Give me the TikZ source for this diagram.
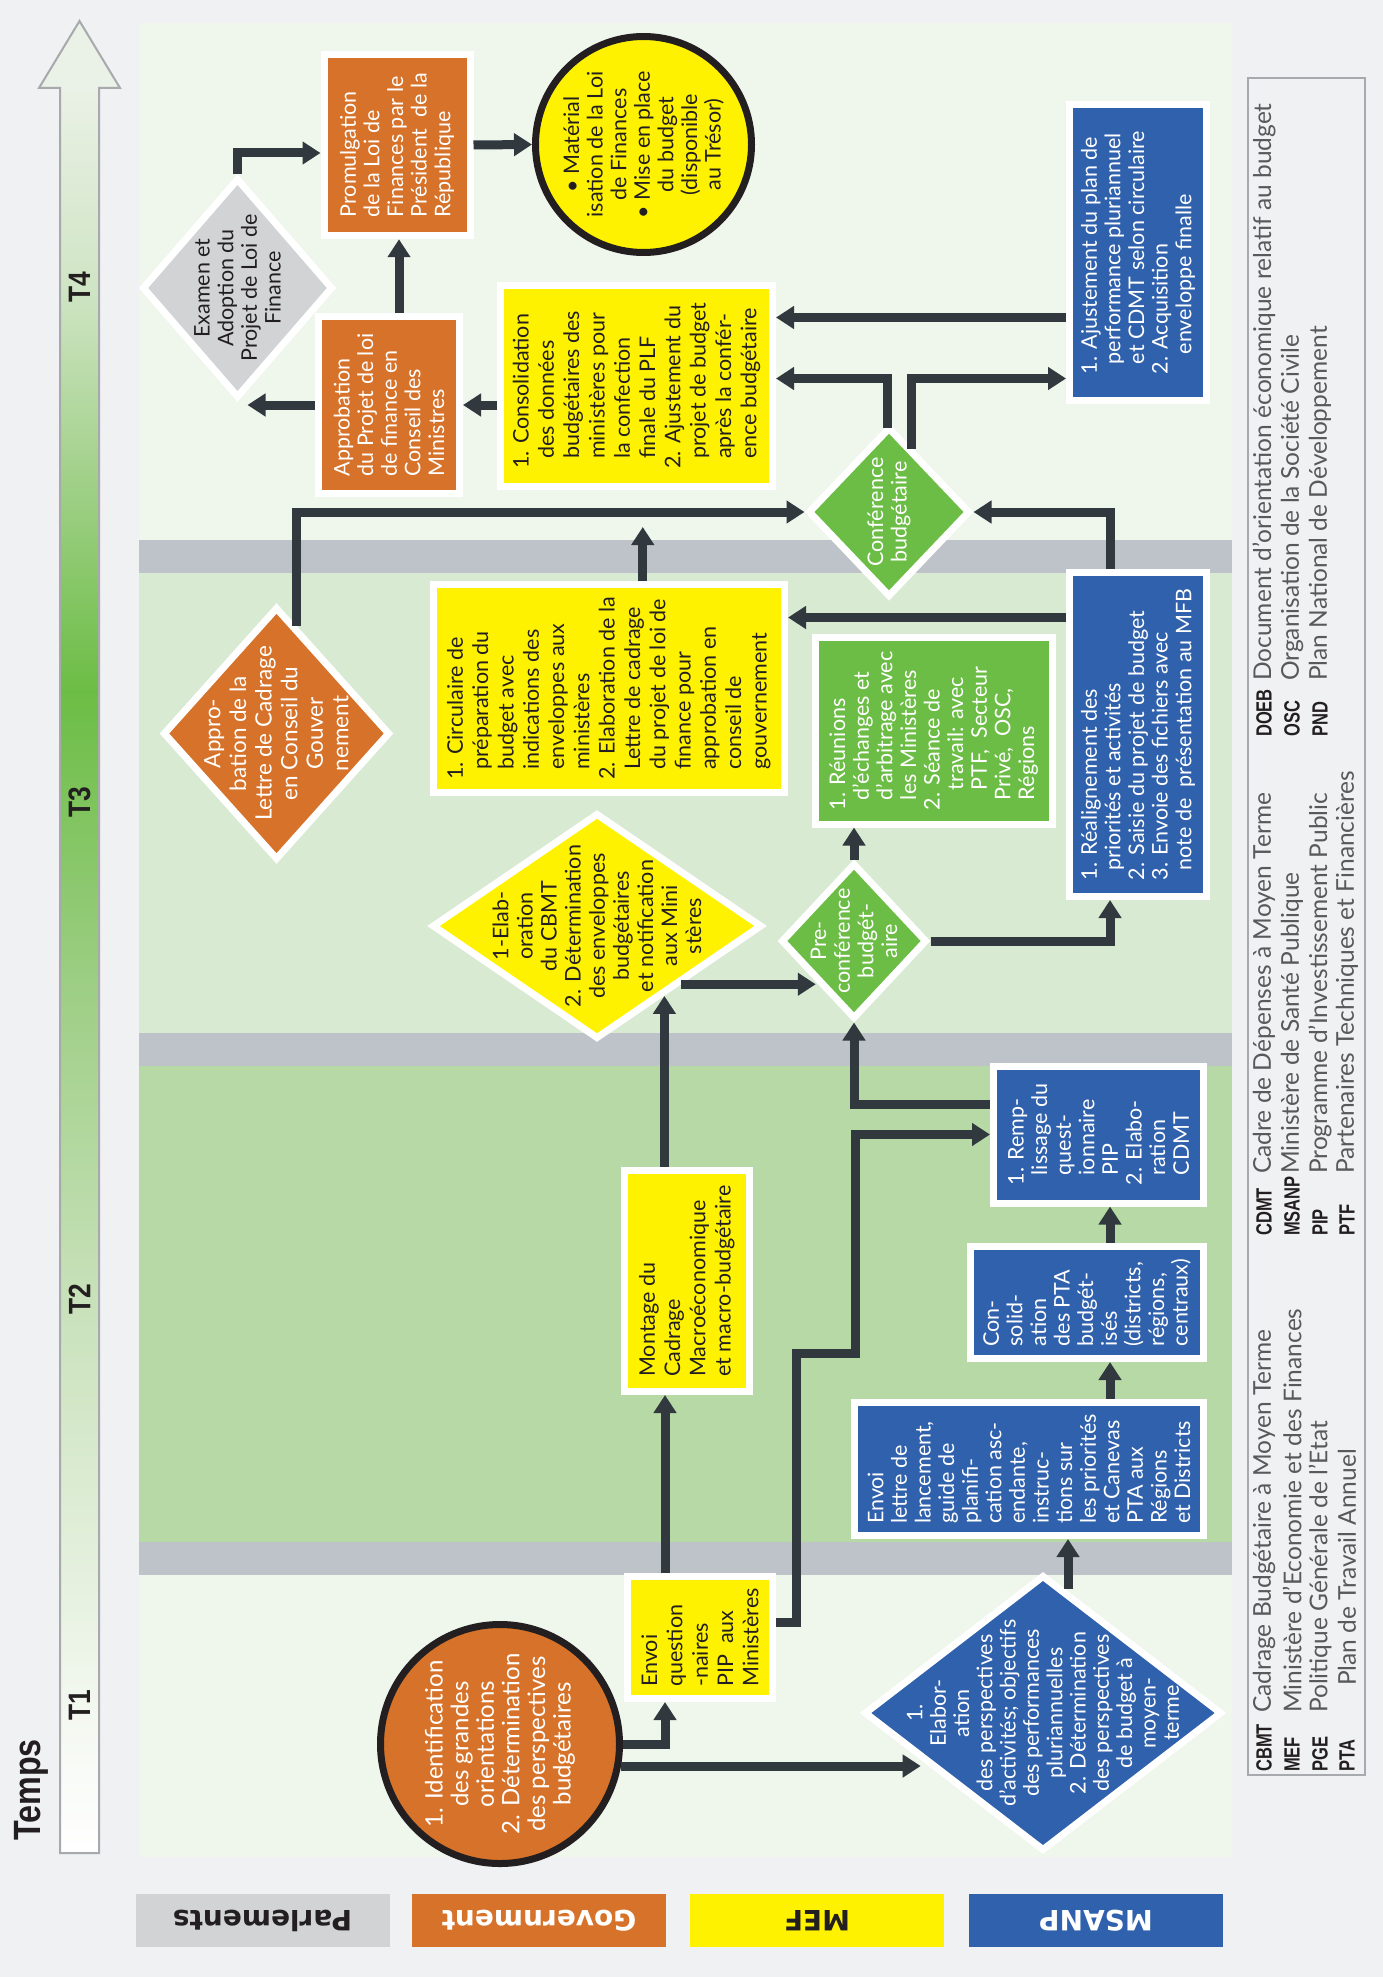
\documentclass[tikz,border=0pt]{standalone}
\usepackage{fontspec}
\setmainfont{Lato}
\newfontfamily\rolefont{DejaVu Sans}
\newfontfamily\timefont[FakeStretch=0.85]{Liberation Sans}
\newfontfamily\abbrfont[FakeStretch=0.75]{Liberation Sans}
\usepackage{tikz}
\usetikzlibrary{arrows.meta,positioning,calc,shapes.geometric}
\definecolor{pagebg}{HTML}{F0F1F3}
\definecolor{bandpale}{HTML}{EFF6EC}
\definecolor{bandlight}{HTML}{D9EAD3}
\definecolor{bandmid}{HTML}{B7D9A5}
\definecolor{bandsep}{HTML}{BEC2C9}
\definecolor{gorange}{HTML}{D67229}
\definecolor{myellow}{HTML}{FFF200}
\definecolor{mblue}{HTML}{3061AD}
\definecolor{mgreen}{HTML}{6CBD45}
\definecolor{pgrey}{HTML}{D1D3D4}
\definecolor{ink}{HTML}{231F20}
\definecolor{arrowc}{HTML}{31393F}
\definecolor{legline}{HTML}{A7A9AC}
\definecolor{legtext}{HTML}{58595B}
\definecolor{tg0}{HTML}{FFFFFF}
\definecolor{tg1}{HTML}{F3F8F0}
\definecolor{tg2}{HTML}{C8E1BA}
\definecolor{tg3}{HTML}{9FCF87}
\definecolor{tg4}{HTML}{6CBD45}
\definecolor{tg5}{HTML}{A8D392}
\definecolor{tg6}{HTML}{D0E5C5}
\definecolor{tg7}{HTML}{EAF1E6}
\pgfdeclareverticalshading{tempsgrad}{100bp}{color(0bp)=(tg0); color(25bp)=(tg0); color(29bp)=(tg1); color(40.7bp)=(tg2); color(49.2bp)=(tg3); color(57.9bp)=(tg4); color(64.7bp)=(tg5); color(69.4bp)=(tg6); color(75bp)=(tg7); color(100bp)=(tg7)}
\newcommand{\cont}{\hspace*{10pt}}
\tikzset{
  box/.style={draw=white,line width=7pt,inner sep=2pt,align=left,font=\fontsize{21.5}{23.6}\selectfont},
  govbox/.style={box,fill=gorange,text=white},
  mefbox/.style={box,fill=myellow,text=ink,font=\fontsize{21.5}{25.3}\selectfont},
  sanbox/.style={box,fill=mblue,text=white},
  confbox/.style={box,fill=mgreen,text=white},
  dia/.style={diamond,draw=white,line width=7pt,inner sep=0pt},
  ring/.style={circle,draw=ink,line width=7pt,inner sep=0pt},
  lbl/.style={inner sep=0pt,align=center,font=\fontsize{21.5}{23.6}\selectfont},
  arr/.style={-{Triangle[length=18pt,width=22pt]},line width=9pt,draw=arrowc},
  rolebox/.style={minimum width=254,minimum height=53,inner sep=0pt,font=\rolefont\bfseries\fontsize{28}{30}\selectfont},
  abbr/.style={anchor=west,inner sep=0pt,text=ink,font=\abbrfont\bfseries\fontsize{22}{26}\selectfont},
  expl/.style={anchor=west,inner sep=0pt,text=legtext,font=\fontsize{24.5}{27}\selectfont},
  tlabel/.style={rotate=90,inner sep=0pt,text=ink,font=\timefont\bfseries\fontsize{31}{34}\selectfont},
}
\begin{document}
\begin{tikzpicture}[x=1pt,y=-1pt]
  \useasboundingbox (0,0) rectangle (1383,1977);
  \fill[pagebg] (0,0) rectangle (1383,1977);

  \begin{scope}[shift={(0,1977)},rotate=90,transform shape]
    \fill[bandpale]  (120,139) rectangle (402,1232);
    \fill[bandsep]   (402,139) rectangle (435,1232);
    \fill[bandmid]   (435,139) rectangle (911,1232);
    \fill[bandsep]   (911,139) rectangle (944,1232);
    \fill[bandlight] (944,139) rectangle (1404,1232);
    \fill[bandsep]   (1404,139) rectangle (1437,1232);
    \fill[bandpale]  (1437,139) rectangle (1954,1232);

    % T4
    \node[govbox,minimum width=181.5,minimum height=146] (promul) at (1832,397) {Promulgation\\de la Loi de\\Finances par le\\Président\ \ de la\\République};
    \node[govbox,minimum width=177,minimum height=141] (appro) at (1572,389) {Approbation\\du Projet de loi\\de finance en\\Conseil des\\Ministres};
    \node[dia,fill=pgrey,minimum width=220,minimum height=191] (exam) at (1689,237.5) {};
    \node[lbl,text=ink] (exam-t) at (exam) {Examen et\\Adoption du\\Projet de Loi de\\Finance};
    \node[ring,fill=myellow,minimum size=216] (mater) at (1832.5,643.5) {};
    \node[lbl,text=ink] (mater-t) at (mater) {\textbullet\ Matérial\\isation de la Loi\\de Finances\\\textbullet\ Mise en place\\du budget\\(disponible\\au Trésor)};
    \node[mefbox,minimum width=201.5,minimum height=272] (conso) at (1591.25,636.5) {1. Consolidation\\\cont des données\\\cont budgétaires des\\\cont ministères pour\\\cont la confection\\\cont finale du PLF\\2. Ajustement du\\\cont projet de budget\\\cont après la confér-\\\cont ence budgétaire};
    \node[sanbox,minimum width=296,minimum height=137] (ajust) at (1724.5,1138) {1. Ajustement du plan de\\\cont performance pluriannuel\\\cont et CDMT selon circulaire\\2. Acquisition\\\cont\cont enveloppe finalle};
    \node[dia,fill=mgreen,minimum width=170,minimum height=162] (conf) at (1465,889) {};
    \node[lbl,text=white] (conf-t) at (conf) {Conférence\\budgétaire};

    % T3
    \node[dia,fill=gorange,minimum width=253,minimum height=227] (cadrage) at (1243.5,276.5) {};
    \node[lbl,text=white,font=\fontsize{22.5}{25.6}\selectfont] (cadrage-t) at (cadrage) {Appro-\\bation de la\\Lettre de Cadrage\\en Conseil du\\Gouver\\nement};
    \node[mefbox,minimum width=208.5,minimum height=351.5] (circ) at (1288.75,608.75) {1. Circulaire de\\\cont préparation du\\\cont budget avec\\\cont indications des\\\cont enveloppes aux\\\cont ministères\\2. Elaboration de la\\\cont Lettre de cadrage\\\cont du projet de loi de\\\cont finance pour\\\cont approbation en\\\cont conseil de\\\cont gouvernement};
    \node[sanbox,minimum width=324,minimum height=137] (realign) at (1242.5,1138) {1. Réalignement des\\\cont priorités et activités\\2. Saisie du projet de budget\\3. Envoie des fichiers avec\\\cont note de\ \ présentation au MFB};
    \node[confbox,minimum width=186.5,minimum height=236.5] (reunion) at (1246.25,933.75) {1. Réunions\\\cont d'échanges et\\\cont d'arbitrage avec\\\cont les Ministères\\2. Séance de\\\cont\cont travail: avec\\\cont\cont PTF,\ \ Secteur\\\cont Privé,\ \ OSC,\\\cont Régions};
    \node[dia,fill=mgreen,minimum width=156,minimum height=146] (preconf) at (1036,854) {};
    \node[lbl,text=white] (preconf-t) at (preconf) {Pre-\\conférence\\budgét-\\aire};
    \node[dia,fill=myellow,minimum width=226,minimum height=330] (elab) at (1051,597) {};
    \node[lbl,text=ink,font=\fontsize{21.5}{24.1}\selectfont] (elab-t) at (elab) {1-Elab-\\oration\\du CBMT\\2. Détermination\\des enveloppes\\budgétaires\\et notification\\aux Mini\\stères};

    % T2
    \node[mefbox,minimum width=221,minimum height=125.5] (montage) at (696,686.75) {Montage du\\Cadrage\\Macroéconomique\\et macro-budgétaire};
    \node[sanbox,minimum width=137,minimum height=210] (remp) at (842.5,1098.5) {1. Remp-\\\cont lissage du\\\cont quest-\\\cont ionnaire\\\cont PIP\\2. Elabo-\\\cont ration\\\cont CDMT};
    \node[sanbox,minimum width=112,minimum height=233] (pta) at (674.5,1087) {Con-\\solid-\\ation\\des PTA\\budgét-\\isés\\(districts,\\régions,\\centraux)};
    \node[sanbox,minimum width=133,minimum height=349] (lancement) at (508,1029) {Envoi\\lettre de\\lancement,\\guide de\\planifi-\\cation asc-\\endante,\\instruc-\\tions sur\\les priorités\\et Canevas\\PTA aux\\Régions\\et Districts};

    % T1
    \node[dia,fill=mblue,minimum width=276,minimum height=358] (msanp) at (264,1043) {};
    \node[lbl,text=white,font=\fontsize{21.5}{23.3}\selectfont] (msanp-t) at (msanp) {1.\\Elabor-\\ation\\des perspectives\\d'activités; objectifs\\des performances\\pluriannuelles\\2. Détermination\\des perspectives\\de budget à\\moyen-\\terme};
    \node[mefbox,minimum width=122,minimum height=145] (quest) at (339.5,700) {Envoi\\question\\-naires\\PIP\ \ aux\\Ministères};
    \node[ring,fill=gorange,minimum size=239] (ident) at (233,500) {};
    \node[lbl,text=white,font=\fontsize{24}{25.6}\selectfont] (ident-t) at (ident) {1. Identification\\des grandes\\orientations\\2. Détermination\\des perspectives\\budgétaires};

    % connectors
    \draw[arr] (exam.east) -| ($(promul.north)+(-8,0)$);
    \draw[arr] ($(appro.north |- exam.west)+(0,10)$) coordinate (a2) (appro.north) -- (a2);
    \draw[arr] ($(appro.east)+(0,10)$) coordinate (a3) -- (a3 -| promul.west);
    \draw[arr] (promul.south) -- (mater.north);
    \draw[arr] (conso.north -| appro.south) -- (appro.south);
    \draw[arr] ($(ajust.north)+(-65,0)$) coordinate (a6) -- (a6 |- conso.south);
    \draw[arr] ($(conf.east)+(-4,-2)$) -- ++(49,0) coordinate (a7) -- (a7 |- conso.south);
    \draw[arr] ($(conf.east)+(-25,22)$) -- ++(70,0) coordinate (a8) -- (a8 |- ajust.north);
    \draw[arr] ($(cadrage.east)!0.17!(cadrage.south)$) -| (conf.north);
    \draw[arr,shorten >=37pt] ($(circ.east)+(0,34)$) coordinate (a9) -- (a9 -| conso.west);
    \draw[arr] ($(realign.east)+(0,-28)$) -| (conf.south);
    \draw[arr] ($(realign.north)+(117,0)$) coordinate (a11) -- (a11 |- circ.south);
    \draw[arr] (preconf.east) -- (preconf.east -| reunion.west);
    \draw[arr] (preconf.south) |- ($(realign.west)+(0,-28)$);
    \draw[arr] (elab.south west) -- (elab.south west |- preconf.north west);
    \coordinate (e15) at ($(elab.south)!0.6!(elab.west)$);
    \draw[arr] (montage.east |- e15) -- (e15);
    \draw[arr] ($(remp.north)+(30,0)$) |- (preconf.west);
    \draw[arr] ($(quest.south)+(15,0)$) -- ++(0,20) -- ++(269,0) -- ++(0,59) -| (remp.north);
    \draw[arr] ($(quest.east)+(0,-35)$) coordinate (a18) -- (a18 -| montage.west);
    \draw[arr] ($(pta.east)+(0,23)$) coordinate (a19) -- (a19 -| remp.west);
    \draw[arr] ($(lancement.east)+(0,81)$) coordinate (a20) -- (a20 -| pta.west);
    \draw[arr] ($(msanp.east)+(-17,25)$) coordinate (a21) -- (a21 -| lancement.west);
    \draw[arr] (ident.south) |- ($(quest.west)+(0,-35)$);
    \coordinate (e23) at ($(msanp.north)!0.33!(msanp.west)$);
    \draw[arr] ($(ident.south)+(-22,-2)$) coordinate (a23) -- (a23 |- e23);

    % legend
    \draw[legline,line width=2pt] (202,1248) rectangle (1899,1365);
    \foreach \ab/\de/\xa/\xd/\yd in {CBMT/Cadrage Budgétaire à Moyen Terme/205/264/1264,
        MEF/Ministère d'Economie et des Finances/205/264/1292,
        PGE/Politique Générale de l'Etat/205/264/1320,
        PTA/Plan de Travail Annuel/205/291/1347,
        CDMT/Cadre de Dépenses à Moyen Terme/741/803/1264,
        MSANP/Ministère de Santé Publique/741/803/1292,
        PIP/Programme d'Investissement Public/741/803/1320,
        PTF/Partenaires Techniques et Financières/741/803/1347,
        DOEB/Document d'orientation économique relatif au budget/1240/1296/1264,
        OSC/Organisation de la Société Civile/1240/1296/1292,
        PND/Plan National de Développement/1240/1296/1320}{
      \node[abbr] (ab-\ab) at (\xa,\yd) {\ab};
      \node[expl] (de-\ab) at (\xd,\yd) {\de};
    }
    \foreach \yd/\lab/\fc/\tc in {262.5/Parlements/pgrey/ink,539/Government/gorange/white,817/MEF/myellow/ink,1096/MSANP/mblue/white}
      \node[rolebox,fill=\fc,text=\tc,rotate=90] (role-\lab) at (56.5,\yd) {\lab};
  \end{scope}

  % time arrow
  \shade[shading=tempsgrad] (60,88) rectangle (99,1853);
  \fill[tg7] (60,88) -- (39,88) -- (79.5,21) -- (120,88) -- (99,88) -- cycle;
  \draw[legline,line width=2pt] (60,1853) -- (60,88) -- (39,88) -- (79.5,21) -- (120,88) -- (99,88) -- (99,1853) -- cycle;
  \foreach \py/\lab in {287/T4,802/T3,1299/T2,1705/T1}
    \node[tlabel] (\lab) at (79.5,\py) {\lab};
  \node[tlabel,font=\timefont\bfseries\fontsize{38}{40}\selectfont] (temps) at (31,1790) {Temps};
\end{tikzpicture}
\end{document}
